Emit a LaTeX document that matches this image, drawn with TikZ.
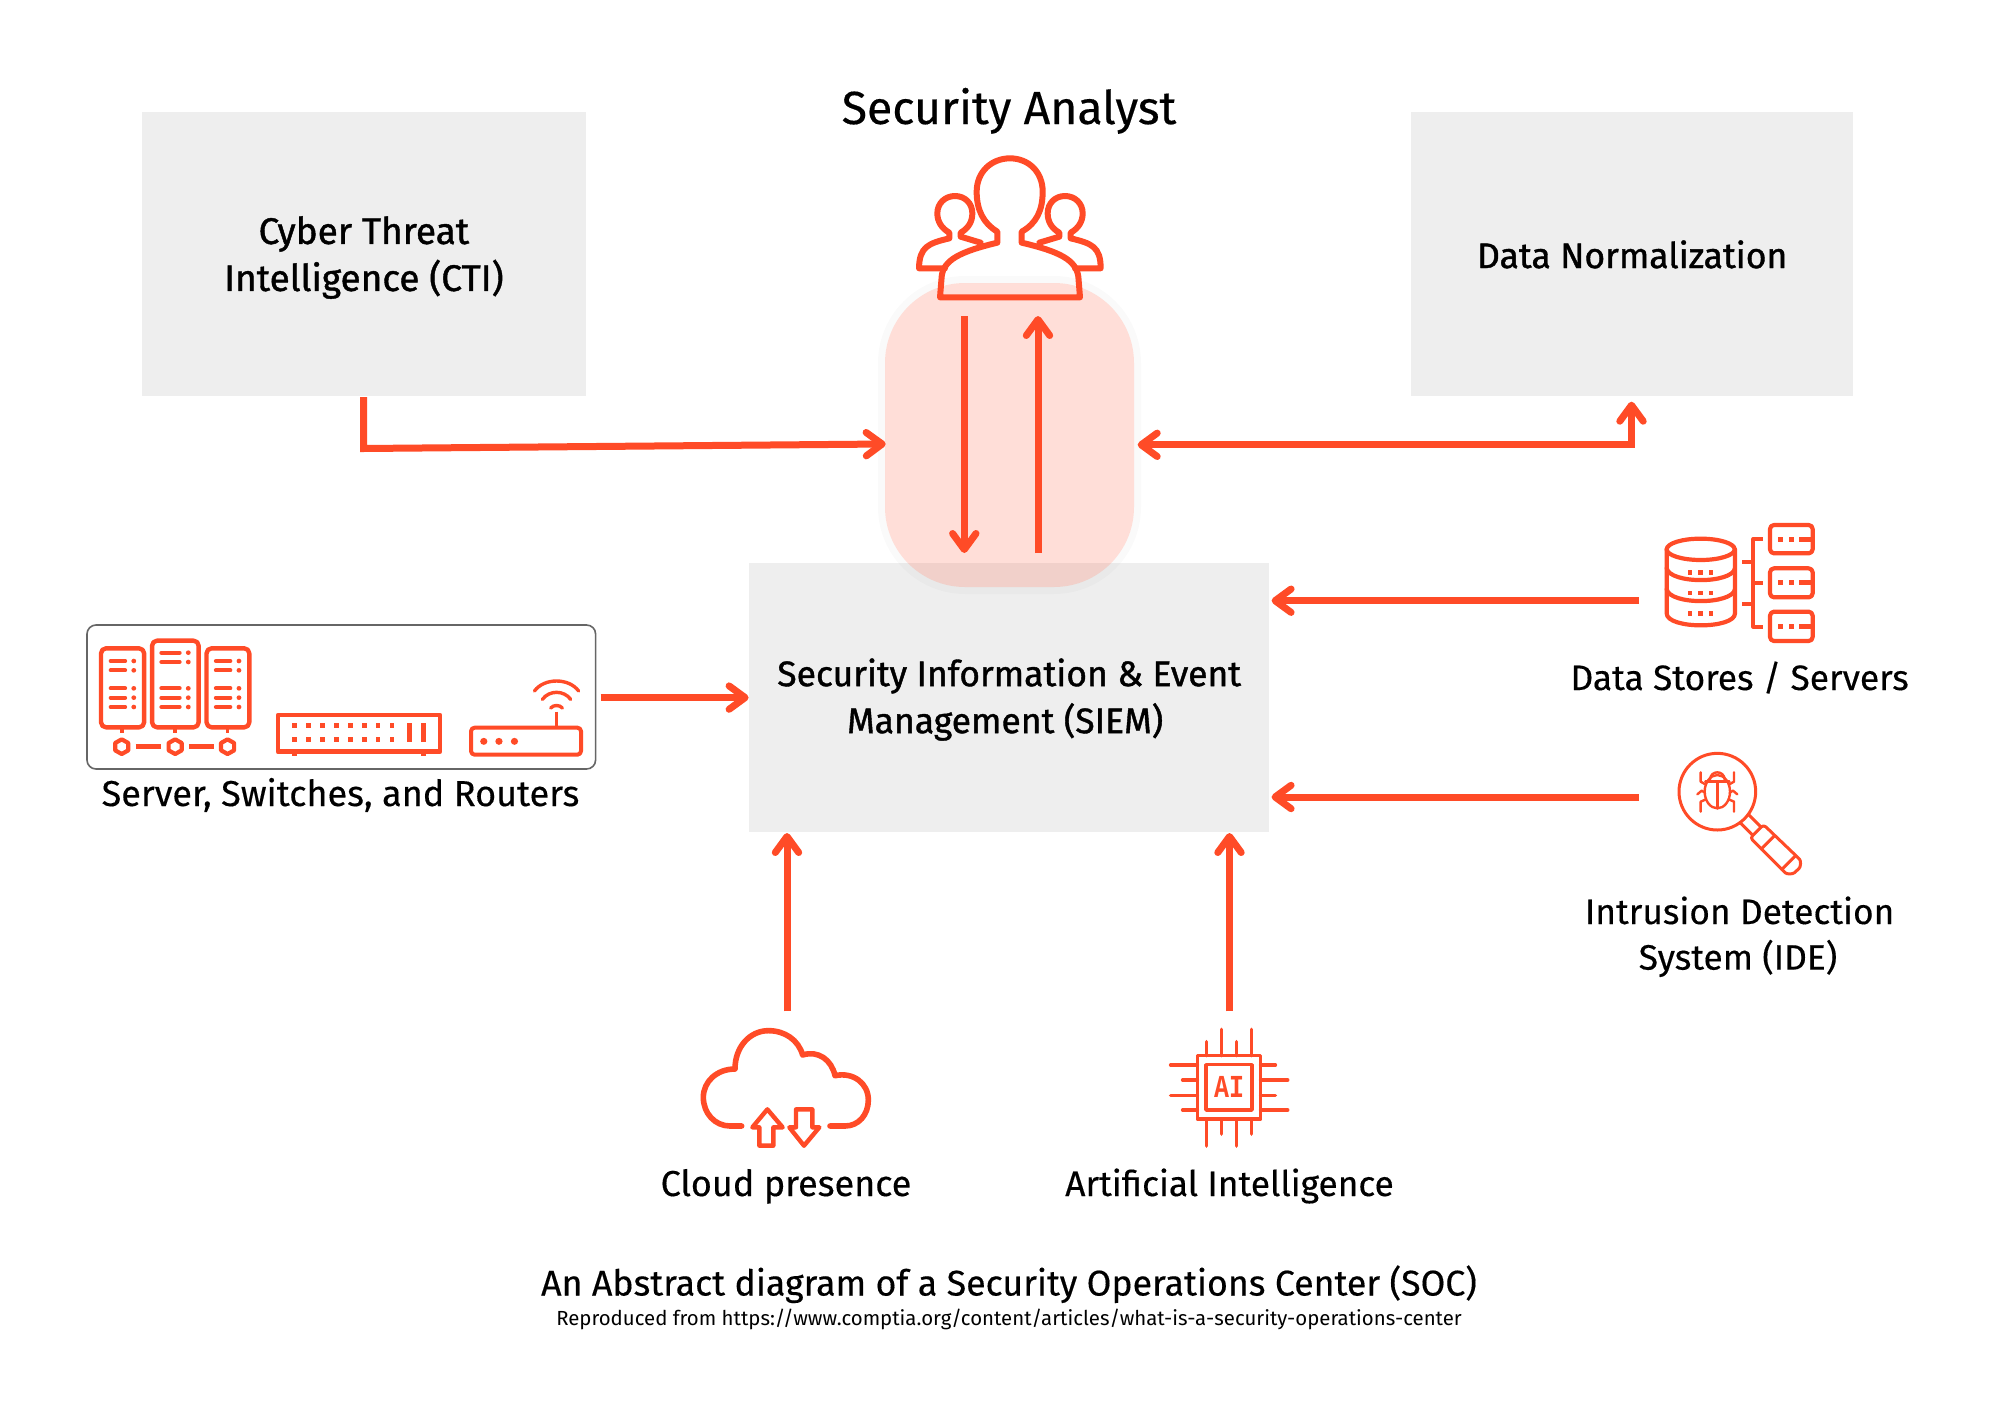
\documentclass[tikz,border=0pt]{standalone}
\usepackage{fontspec}
\usetikzlibrary{arrows.meta}
\setmainfont{Fira Sans}
\newfontfamily\labelfont{Fira Sans}[FakeBold=1.1]
\newfontfamily\plainfont{Fira Sans}[FakeBold=0.35]
\newfontfamily\chipfont{Liberation Mono}
\definecolor{acc}{HTML}{FF4B27}
\definecolor{panel}{HTML}{EEEEEE}
\tikzset{
  px/.style={x=0.5pt,y=-0.5pt},
  z3/.style={x=0.16667pt,y=-0.16667pt},
  zrack/.style={x=0.17241pt,y=-0.16667pt},
  flowtip/.tip={Straight Barb[length=8pt,width=11.7pt,line width=3.5pt,round]},
  flow/.style={draw=acc,line width=3.5pt,-flowtip},
  flowboth/.style={draw=acc,line width=3.5pt,flowtip-flowtip},
  icon/.style={draw=acc,line width=#1,line cap=round,line join=round},
  icon/.default=1.4pt,
  lab/.style={text=black,font=\fontsize{17.75}{23.5}\selectfont\labelfont,align=center},
  plainlab/.style={text=black,font=\fontsize{17.65}{23}\selectfont\plainfont,align=center,inner sep=0,anchor=base}
}
\begin{document}
\begin{tikzpicture}[px]
\useasboundingbox (0,0) rectangle (1999,1414);
\fill[white] (0,0) rectangle (1999,1414);
% panels
\node[fill=panel,inner sep=0,minimum width=221.9pt,minimum height=142pt,anchor=north west,lab,font=\fontsize{18.5}{23.5}\selectfont\labelfont] (cti) at (141.6,112) {\rule{0pt}{17pt}Cyber Threat\\Intelligence (CTI)};
\node[fill=panel,inner sep=0,minimum width=221.2pt,minimum height=142pt,anchor=north west,lab] (dn) at (1410.6,112) {Data Normalization};
\node[fill=panel,inner sep=0,minimum width=260.2pt,minimum height=134.5pt,anchor=north west,lab] (siem) at (748.6,563) {\rule{0pt}{15.5pt}Security Information \& Event\\Management (SIEM)\hspace*{4pt}};
% titles
\node[plainlab,font=\fontsize{23.2}{25}\selectfont\plainfont] (analyst) at (1009,124) {Security Analyst};
% pink translucent panel
\node[draw=black,draw opacity=0.018,line width=3.5pt,outer sep=0,rounded corners=41.75pt,inner sep=0,minimum width=128pt,minimum height=155.5pt,anchor=north west] (halo) at (881.5,279.5) {};
\node[fill=acc,fill opacity=0.18,rounded corners=40pt,outer sep=0,inner sep=0,minimum width=124.5pt,minimum height=152pt,anchor=north west] (pink) at (885,283) {};
% analyst icon
\begin{scope}[shift={(850,60)},z3]
\draw[icon=3pt] (270,712) -- (690,712) -- (685,650) .. controls (678,600) and (630,575) .. (515,548) -- (515,515) .. controls (560,490) and (578,450) .. (578,395) .. controls (578,335) and (535,295) .. (480,295) .. controls (425,295) and (380,335) .. (380,395) .. controls (380,450) and (400,490) .. (442,515) -- (442,548) .. controls (330,575) and (280,600) .. (275,650) -- cycle;
\draw[icon=3pt] (392,548) -- (332,530) -- (332,518) .. controls (355,505) and (367,485) .. (367,460) .. controls (367,430) and (345,408) .. (315,408) .. controls (285,408) and (262,430) .. (262,460) .. controls (262,485) and (275,505) .. (298,518) -- (298,535) .. controls (235,550) and (208,560) .. (207,625) -- (285,625);
\draw[icon=3pt] (568,548) -- (628,530) -- (628,518) .. controls (605,505) and (593,485) .. (593,460) .. controls (593,430) and (615,408) .. (645,408) .. controls (675,408) and (698,430) .. (698,460) .. controls (698,485) and (685,505) .. (662,518) -- (662,535) .. controls (725,550) and (752,560) .. (752,625) -- (675,625);
\end{scope}
% server group
\node[draw=black!60,line width=0.8pt,rounded corners=4.5pt,outer sep=0,inner sep=0,minimum width=254.3pt,minimum height=72pt,anchor=north west,fill=white] (rack) at (87,625) {};
\begin{scope}[shift={(70,610)},zrack]
\foreach \a/\b/\t in {90/215/115,238/373/92,396/520/115}
  \draw[icon=2.2pt,rounded corners=2.5pt] (\a,\t) rectangle (\b,352);
\foreach \y in {153,181,235,263,291} {
  \draw[icon=2pt] (118,\y) -- (160,\y);
  \fill[acc] (185,\y) circle (7);
  \draw[icon=2pt] (423,\y) -- (465,\y);
  \fill[acc] (490,\y) circle (7);
}
\foreach \y in {128,156,235,263,291} {
  \draw[icon=2pt] (265,\y) -- (318,\y);
  \fill[acc] (343,\y) circle (7);
}
\foreach \x in {150,305,457} {
  \draw[icon=1.8pt,line cap=butt] (\x,352) -- (\x,370);
  \draw[icon=2.1pt] (\x,388) -- ++(19,11) -- ++(0,22) -- ++(-19,11) -- ++(-19,-11) -- ++(0,-22) -- cycle;
}
\draw[icon=2.2pt,line cap=butt] (190,410) -- (265,410);
\draw[icon=2.2pt,line cap=butt] (345,410) -- (418,410);
% switch
\draw[icon=2.3pt] (603,315) rectangle (1073,425);
\foreach \x in {651,691,732,772,813,853,893,934}
  \foreach \y in {347,388}
    \fill[acc] (\x-7,\y-7) rectangle (\x+7,\y+7);
\fill[acc] (978,340) rectangle (992,396);
\fill[acc] (1018,340) rectangle (1032,396);
\fill[acc] (644,425) rectangle (658,437);
\fill[acc] (1018,425) rectangle (1032,437);
% router
\draw[icon=2pt,rounded corners=1.8pt] (1163,353) rectangle (1482,434);
\foreach \x in {1200,1244,1289} \fill[acc] (\x,394) circle (10.5);
\draw[icon=1.8pt,line cap=butt] (1411,305) -- (1411,353);
\draw[icon=1.7pt] (1394,294) .. controls (1402,284) and (1420,284) .. (1428,294);
\draw[icon=1.7pt] (1370,268) .. controls (1390,240) and (1432,240) .. (1452,268);
\draw[icon=1.7pt] (1347,243) .. controls (1375,203) and (1447,203) .. (1475,243);
\end{scope}
\node[plainlab,font=\fontsize{18}{23}\selectfont\plainfont] (racklabel) at (340.5,806) {Server, Switches, and Routers};
% data stores icon
\begin{scope}[shift={(1640,510)},z3]
\draw[icon=2.1pt] (182,118) ellipse (102 and 32);
\draw[icon=2.1pt] (80,118) -- (80,310) .. controls (80,358) and (285,358) .. (285,310) -- (285,118);
\draw[icon=2.1pt] (80,175) .. controls (90,222) and (275,222) .. (285,175);
\draw[icon=2.1pt] (80,238) .. controls (90,285) and (275,285) .. (285,238);
\foreach \y in {187,249,311}
  \foreach \x in {150,182,213}
    \fill[acc] (\x-7,\y-7) rectangle (\x+7,\y+7);
\draw[icon=2pt,line cap=butt] (368,87) -- (340,87) -- (340,350) -- (368,350);
\draw[icon=2pt,line cap=butt] (340,218) -- (368,218);
\draw[icon=2pt,line cap=butt] (307,156) -- (340,156);
\draw[icon=2pt,line cap=butt] (307,281) -- (340,281);
\foreach \t/\b/\c in {45/130/88,175/262/218,305/393/349} {
  \draw[icon=2.1pt,rounded corners=2pt] (390,\t) rectangle (518,\b);
  \fill[acc] (415,\c-7) rectangle (430,\c+7);
  \fill[acc] (447,\c-7) rectangle (462,\c+7);
  \fill[acc] (478,\c-7) rectangle (518,\c+7);
}
\end{scope}
\node[plainlab] (storelabel) at (1739.6,690) {Data Stores / Servers};
% intrusion detection icon
\begin{scope}[shift={(1660,740)},z3]
\draw[icon=1.5pt] (172,155) circle (115);
\draw[icon=1.5pt] (265.7,223.9) -- (303.2,261.4);
\draw[icon=1.5pt] (240.9,248.7) -- (278.4,286.2);
\draw[icon=1.5pt,rounded corners=1.5pt] (310.6,254) -- (271,293.6) -- (369.1,391.7) .. controls (380,403) and (398,403) .. (410,392) .. controls (423,380) and (423,362) .. (412,351) -- cycle;
\draw[icon=1.5pt] (343.8,287.2) -- (304.2,326.8);
\draw[icon=1.5pt] (405.3,348.7) -- (365.7,388.3);
\draw[icon=1.2pt] (172,155) ellipse (38 and 50);
\draw[icon=1.2pt] (172,125) -- (172,205);
\draw[icon=1.2pt] (136,125) -- (208,125);
\draw[icon=1.2pt] (150,118) .. controls (152,90) and (192,90) .. (194,118);
\draw[icon=1.2pt] (122,97) -- (122,125) -- (136,133);
\draw[icon=1.2pt] (222,97) -- (222,125) -- (208,133);
\draw[icon=1.2pt] (122,215) -- (122,185) -- (138,178);
\draw[icon=1.2pt] (222,215) -- (222,185) -- (206,178);
\draw[icon=1.2pt] (112,163) -- (125,152) -- (135,158);
\draw[icon=1.2pt] (232,163) -- (219,152) -- (209,158);
\end{scope}
\node[plainlab] (idslabela) at (1739.6,924) {Intrusion Detection};
\node[plainlab] (idslabelb) at (1738,969.6) {System (IDE)};
% cloud icon
\begin{scope}[shift={(690,1020)},z3]
\draw[icon=2.8pt] (155,318) -- (120,318) .. controls (75,318) and (40,280) .. (40,232) .. controls (40,185) and (80,147) .. (135,147) .. controls (135,80) and (180,32) .. (235,32) .. controls (285,32) and (325,60) .. (338,105) .. controls (385,90) and (425,120) .. (435,167) .. controls (490,155) and (535,190) .. (535,240) .. controls (535,285) and (505,318) .. (465,318) -- (420,318);
\draw[icon=2.2pt] (232,268) -- (278,322) -- (250,322) -- (250,377) -- (208,377) -- (208,322) -- (187,322) -- cycle;
\draw[icon=2.2pt] (318,268) -- (367,268) -- (367,322) -- (388,322) -- (342,377) -- (298,322) -- (318,322) -- cycle;
\end{scope}
\node[plainlab,font=\fontsize{18}{23}\selectfont\plainfont] (cloudlabel) at (786,1196) {Cloud presence};
% AI icon
\begin{scope}[shift={(1160,1020)},z3]
\draw[icon=1.8pt,line cap=butt] (112,107) rectangle (302,297);
\draw[icon=1.8pt,line cap=butt] (138,134) rectangle (276,270);
\node[text=acc,inner sep=0,font=\fontsize{16}{16}\chipfont\bfseries] (aitext) at (207,200) {\scalebox{0.78}[1]{AI}};
\foreach \x/\e in {139/65,184/28,229/65,275/28} \draw[icon=1.8pt] (\x,107) -- (\x,\e);
\foreach \x/\e in {139/378,184/342,229/378,275/342} \draw[icon=1.8pt] (\x,297) -- (\x,\e);
\foreach \y/\e in {135/32,180/68,226/32,270/68} \draw[icon=1.8pt] (112,\y) -- (\e,\y);
\foreach \y/\e in {135/346,180/383,226/346,270/383} \draw[icon=1.8pt] (302,\y) -- (\e,\y);
\end{scope}
\node[plainlab] (ailabel) at (1229.5,1196) {Artificial Intelligence};
% caption
\node[plainlab,font=\fontsize{17.85}{23}\selectfont\plainfont] (caption) at (1009,1295.5) {An Abstract diagram of a Security Operations Center (SOC)};
\node[inner sep=0,anchor=base,font=\fontsize{10.2}{12}\selectfont] (source) at (1009,1325) {Reproduced from https://www.comptia.org/content/articles/what-is-a-security-operations-center};
% connector ends
\coordinate (ctistart) at (363.5,397);
\coordinate (ctibend) at (363.5,448.5);
\coordinate (ctiend) at (885.7,444);
\coordinate (dnbend) at (1631.5,444.8);
\coordinate (dnend) at (1137.7,444.8);
\coordinate (dntip) at (1631.5,401.7);
\coordinate (downa) at (964.3,316);
\coordinate (downb) at (964.3,553);
\coordinate (upa) at (1038,553);
\coordinate (upb) at (1038,316);
\coordinate (storea) at (1639,600.7);
\coordinate (storeb) at (1271.6,600.7);
\coordinate (idsa) at (1639,797);
\coordinate (idsb) at (1271.6,797);
\coordinate (racka) at (600.7,697.6);
\coordinate (rackb) at (748.6,697.6);
\coordinate (clouda) at (787,1011.4);
\coordinate (cloudb) at (787,833);
\coordinate (aia) at (1229.5,1011.4);
\coordinate (aib) at (1229.5,833);
% connectors
\draw[flow,line join=miter] (ctistart) -- (ctibend) -- (ctiend);
\draw[flowboth] (dnend) -- (dnbend) -- (dntip);
\draw[flow] (downa) -- (downb);
\draw[flow] (upa) -- (upb);
\draw[flow] (storea) -- (storeb);
\draw[flow] (idsa) -- (idsb);
\draw[flow] (racka) -- (rackb);
\draw[flow] (clouda) -- (cloudb);
\draw[flow] (aia) -- (aib);
\end{tikzpicture}
\end{document}
